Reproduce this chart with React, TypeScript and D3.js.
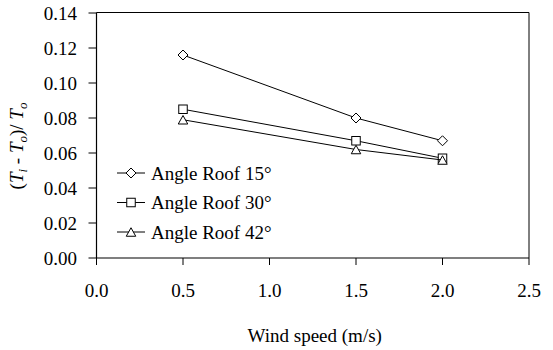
import React from "react";
import * as d3 from "d3";

const windSpeeds = [0.5, 1.5, 2.0];
const roof15 = [0.116, 0.080, 0.067];
const roof30 = [0.085, 0.067, 0.057];
const roof42 = [0.079, 0.062, 0.056];
const seriesNames = ["Angle Roof 15°", "Angle Roof 30°", "Angle Roof 42°"];
const markerTypes = ["diamond", "square", "triangle"];
const xTicks = [0, 0.5, 1.0, 1.5, 2.0, 2.5];
const yTicks = [0, 0.02, 0.04, 0.06, 0.08, 0.1, 0.12, 0.14];

const W = 553;
const H = 350;
const FONT = '"Liberation Serif", "Times New Roman", serif';
const textStyle = { fontFamily: FONT, fill: "#000" };

function Marker({ type, x, y }: { type: string; x: number; y: number }) {
  const common = { fill: "#fff", stroke: "#000", strokeWidth: 1 };
  if (type === "diamond") {
    const r = 5;
    return <path d={`M${x},${y - r}L${x + r},${y}L${x},${y + r}L${x - r},${y}Z`} {...common} />;
  }
  if (type === "square") {
    const s = 8.5;
    return <rect x={x - s / 2} y={y - s / 2} width={s} height={s} {...common} />;
  }
  const h = 8.5;
  const w = 9.5;
  return <path d={`M${x},${y - h / 2}L${x + w / 2},${y + h / 2}L${x - w / 2},${y + h / 2}Z`} {...common} />;
}

export default function App() {
  const x = d3.scaleLinear().domain([0, 2.5]).range([96.5, 529]);
  const y = d3.scaleLinear().domain([0, 0.14]).range([258, 13]);
  const allSeries = [roof15, roof30, roof42];
  const line = d3
    .line<[number, number]>()
    .x((d) => x(d[0]))
    .y((d) => y(d[1]));
  const fs = 19;
  const legendY = [173, 202.5, 232];
  return (
    <svg
      width={W}
      height={H}
      style={{ position: "absolute", left: 0, top: 0, background: "#fff", fontFamily: FONT }}
    >
      <rect x={0} y={0} width={W} height={H} fill="#fff" />
      {/* plot frame */}
      <line x1={x(0)} x2={x(2.5)} y1={12.5} y2={12.5} stroke="#000" strokeWidth={1} />
      <line x1={x(2.5)} x2={x(2.5)} y1={12.5} y2={y(0)} stroke="#000" strokeWidth={1} />
      {/* axes */}
      <line x1={x(0)} x2={x(0)} y1={12.5} y2={y(0)} stroke="#000" strokeWidth={1.2} />
      <line x1={x(0)} x2={x(2.5)} y1={y(0)} y2={y(0)} stroke="#000" strokeWidth={1.2} />
      {yTicks.map((t) => (
        <g key={"y" + t}>
          <line x1={x(0) - 8} x2={x(0)} y1={y(t)} y2={y(t)} stroke="#000" strokeWidth={1} />
          <text x={77} y={y(t) + 6.5} textAnchor="end" fontSize={fs} style={textStyle}>
            {t.toFixed(2)}
          </text>
        </g>
      ))}
      {xTicks.map((t) => (
        <g key={"x" + t}>
          <line x1={x(t)} x2={x(t)} y1={y(0)} y2={y(0) + 7} stroke="#000" strokeWidth={1} />
          <text x={x(t)} y={297} textAnchor="middle" fontSize={fs} style={textStyle}>
            {t.toFixed(1)}
          </text>
        </g>
      ))}
      {/* series */}
      {allSeries.map((vals, i) => {
        const pts: [number, number][] = windSpeeds.map((w, j) => [w, vals[j]]);
        return (
          <g key={"s" + i}>
            <path d={line(pts) || ""} fill="none" stroke="#000" strokeWidth={1} />
            {pts.map((p, j) => (
              <Marker key={j} type={markerTypes[i]} x={x(p[0])} y={y(p[1])} />
            ))}
          </g>
        );
      })}
      {/* legend */}
      {seriesNames.map((name, i) => (
        <g key={"l" + i}>
          <line x1={117} x2={145} y1={legendY[i]} y2={legendY[i]} stroke="#000" strokeWidth={1} />
          <Marker type={markerTypes[i]} x={131} y={legendY[i]} />
          <text x={151} y={legendY[i] + 6.5} fontSize={fs} style={textStyle}>
            {name}
          </text>
        </g>
      ))}
      {/* axis titles */}
      <text x={(x(0) + x(2.5)) / 2 + 2} y={342} textAnchor="middle" fontSize={fs} style={textStyle}>
        Wind speed (m/s)
      </text>
      <text transform="translate(23,146) rotate(-90)" textAnchor="middle" fontSize={fs} style={textStyle}>
        (<tspan fontStyle="italic">T</tspan>
        <tspan fontStyle="italic" fontSize={13} dy={4}>i</tspan>
        <tspan dy={-4}> - </tspan>
        <tspan fontStyle="italic">T</tspan>
        <tspan fontStyle="italic" fontSize={13} dy={4}>o</tspan>
        <tspan dy={-4}>)/ </tspan>
        <tspan fontStyle="italic">T</tspan>
        <tspan fontStyle="italic" fontSize={13} dy={4}>o</tspan>
      </text>
    </svg>
  );
}
